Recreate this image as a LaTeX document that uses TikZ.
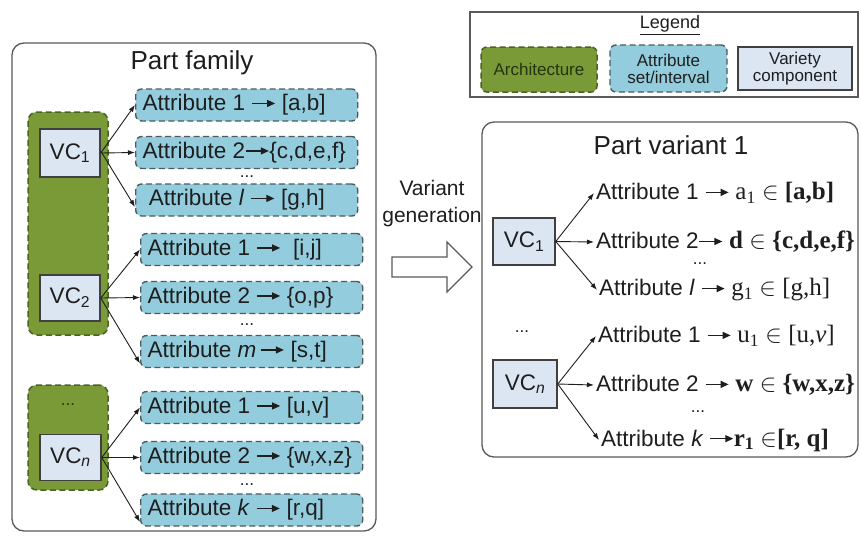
\documentclass[tikz,border=0pt]{standalone}
\usepackage{fontspec}
\setmainfont{Liberation Sans}
\newfontfamily\tmsfont{Liberation Serif}
\usetikzlibrary{arrows.meta}

\definecolor{archfill}{HTML}{799A37}
\definecolor{archline}{HTML}{4A6324}
\definecolor{archtext}{HTML}{24340E}
\definecolor{attrfill}{HTML}{93CDDD}
\definecolor{attrline}{HTML}{4D5A5E}
\definecolor{vcfill}{HTML}{DCE6F2}
\definecolor{vcline}{HTML}{404040}
\definecolor{frameline}{HTML}{5A5A5A}
\definecolor{ink}{HTML}{1E1E1E}

% small filled arrow used inside the attribute texts
\newcommand\attrarrow{\tikz[x=1pt,y=1pt,baseline=-0.62ex]\draw[ink,line width=1.2pt,-{Triangle[length=8pt,width=7pt]}] (0,0)--(23,0);}
\newcommand\pxfont[1]{\fontsize{#1}{#1}\selectfont}
% left-aligned text line of fixed width inside an attribute box
\newcommand\attrline[1]{\makebox[208pt][l]{#1}}

\tikzset{
  frame/.style={draw=frameline,line width=1.3pt,rounded corners=12pt},
  archbox/.style={draw=archline,fill=archfill,line width=1.5pt,dash pattern=on 6pt off 3.5pt,rounded corners=9pt,inner sep=0pt},
  attrbox/.style={draw=attrline,fill=attrfill,line width=1.4pt,dash pattern=on 6pt off 3.5pt,rounded corners=6pt,
    minimum width=222pt,minimum height=32pt,anchor=west,inner xsep=7pt,inner ysep=0pt,
    font=\pxfont{22.5},text=ink},
  vcbox/.style={draw=vcline,fill=vcfill,line width=1.5pt,inner sep=0pt,font=\pxfont{22.5},text=ink},
  title/.style={font=\pxfont{26},text=ink},
  vartext/.style={anchor=west,inner sep=2pt,font=\pxfont{22.5},text=ink},
  dots/.style={anchor=base,inner sep=0pt,font=\pxfont{17},text=ink},
  link/.style={ink,line width=0.9pt,-{Latex[length=7pt,width=5pt]}},
  legtext/.style={font=\pxfont{17},align=center,inner sep=0pt}
}

\begin{document}
\begin{tikzpicture}[x=1pt,y=-1pt]
\useasboundingbox (0,0) rectangle (861,536);
\fill[white] (0,0) rectangle (861,536);

% ---------- part family ----------
\node[frame,minimum width=364pt,minimum height=488pt,inner sep=0pt] (family) at (194,287) {};
\node[title] (familytitle) at (192,63) {Part family};

\node[archbox,minimum width=80pt,minimum height=223pt] (arch1) at (68,223.5) {};
\node[archbox,minimum width=80pt,minimum height=105pt] (arch2) at (68,437.5) {};

\node[vcbox,minimum width=60pt,minimum height=48pt] (vc1) at (70,153) {VC\textsubscript{1}};
\node[vcbox,minimum width=60pt,minimum height=46pt] (vc2) at (70,298) {VC\textsubscript{2}};
\node[vcbox,minimum width=61pt,minimum height=46pt] (vcn) at (70.5,457.5) {VC\textsubscript{\itshape n}};
\node[dots,text=archtext] (archdots) at (68,405) {...};

\node[attrbox] (a11) at (135,105) {\attrline{Attribute 1 \attrarrow\ [a,b]}};
\node[attrbox] (a12) at (135,152.5) {\attrline{Attribute 2\attrarrow\{c,d,e,f\}}};
\node[attrbox] (a1l) at (135,200) {\attrline{\ Attribute \textit{l} \attrarrow\ [g,h]}};
\node[attrbox] (a21) at (140,249.5) {\attrline{Attribute 1 \attrarrow\ \ [i,j]}};
\node[attrbox] (a22) at (140,297.5) {\attrline{Attribute 2 \attrarrow\ \{o,p\}}};
\node[attrbox] (a2m) at (140,351.5) {\attrline{Attribute \textit{m}\,\attrarrow\ [s,t]}};
\node[attrbox] (an1) at (140,407.5) {\attrline{Attribute 1 \attrarrow\ [u,v]}};
\node[attrbox] (an2) at (140,457.5) {\attrline{Attribute 2 \attrarrow\ \{w,x,z\}}};
\node[attrbox] (ank) at (140,510) {\attrline{Attribute \textit{k} \attrarrow\ [r,q]}};

\node[dots] (d1) at (247,177) {...};
\node[dots] (d2) at (247,325) {...};
\node[dots] (dn) at (247,485) {...};

\draw[link] (vc1.east) -- (a11.west);
\draw[link] (vc1.east) -- (a12.west);
\draw[link] ([yshift=2pt]vc1.east) -- ([yshift=-7pt]a1l.west);
\draw[link] (vc2.east) -- (a21.west);
\draw[link] (vc2.east) -- (a22.west);
\draw[link] (vc2.east) -- ([yshift=-12pt]a2m.west);
\draw[link] (vcn.east) -- (an1.west);
\draw[link] (vcn.east) -- (an2.west);
\draw[link] (vcn.east) -- ([yshift=-12pt]ank.west);

% ---------- variant generation ----------
\node[font=\pxfont{21},align=center,text=ink,inner sep=0pt] (vgen) at (432,204) {Variant\\[6pt]generation};
\draw[frameline,line width=1.3pt,fill=white,line join=miter]
  (392,257) -- (447,257) -- (447,242) -- (472,267) -- (447,292) -- (447,277) -- (392,277) -- cycle;

% ---------- legend ----------
\draw[frameline,line width=1.3pt] (470,12) rectangle (858,97);
\node[font=\pxfont{18},text=ink,inner sep=0pt] (legtitle) at (670,25) {\underline{Legend}};
\node[archbox,rounded corners=6pt,minimum width=116pt,minimum height=45pt,legtext,text=archtext] (legarch) at (539,69.5) {Architecture};
\node[attrbox,anchor=center,minimum width=117pt,minimum height=47pt,legtext,text=ink] (legattr) at (668.5,68.5) {Attribute\\set/interval};
\node[vcbox,minimum width=114pt,minimum height=43pt,legtext,text=ink] (legvc) at (795,68.5) {Variety\\component};

% ---------- part variant ----------
\node[frame,minimum width=376pt,minimum height=335pt,inner sep=0pt] (variant) at (670,289.5) {};
\node[title] (varianttitle) at (671,145) {Part variant 1};

\node[vcbox,minimum width=62pt,minimum height=47pt] (rvc1) at (524,241.5) {VC\textsubscript{1}};
\node[vcbox,minimum width=64pt,minimum height=48pt] (rvcn) at (525,384) {VC\textsubscript{\itshape n}};

\node[vartext] (r11) at (594,193) {Attribute 1 \attrarrow\ {\tmsfont\pxfont{25}a\textsubscript{1} $\in$ \textbf{[a,b]}}};
\node[vartext] (r12) at (594,242) {Attribute 2\attrarrow\ {\tmsfont\pxfont{25}\textbf{d} $\in$ \textbf{\{c,d,e,f\}}}};
\node[vartext] (r1l) at (597,290) {Attribute \textit{l} \attrarrow\ {\tmsfont\pxfont{25}g\textsubscript{1} $\in$ [g,h]}};
\node[vartext] (rn1) at (596,336) {Attribute 1 \attrarrow\ {\tmsfont\pxfont{25}u\textsubscript{1} $\in$ [u,\textit{v}]}};
\node[vartext] (rn2) at (594,385) {Attribute 2 \attrarrow\ {\tmsfont\pxfont{25}\textbf{w} $\in$ \textbf{\{w,x,z\}}}};
\node[vartext] (rnk) at (599,440) {Attribute \textit{k} \attrarrow{\tmsfont\pxfont{25}\textbf{r\textsubscript{1}} $\in$\textbf{[r, q]}}};

\node[dots] (rd1) at (700,264) {...};
\node[dots] (rdm) at (522,332) {...};
\node[dots] (rdn) at (698,412) {...};

\draw[link] (rvc1.east) -- (r11.west);
\draw[link] (rvc1.east) -- (r12.west);
\draw[link] (rvc1.east) -- (r1l.west);
\draw[link] (rvcn.east) -- (rn1.west);
\draw[link] (rvcn.east) -- (rn2.west);
\draw[link] (rvcn.east) -- (rnk.west);
\end{tikzpicture}
\end{document}
